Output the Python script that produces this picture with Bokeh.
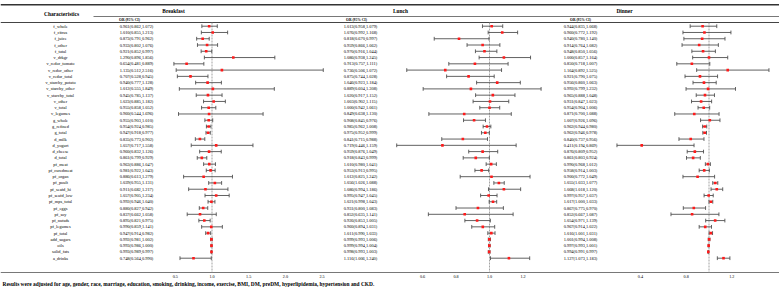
from bokeh.plotting import figure
from bokeh.models import Range1d
from bokeh.core.properties import value
from bokeh.embed import file_html
from bokeh.resources import INLINE

names = ["f_whole", "f_citrus", "f_juice", "f_other", "f_total", "v_drkgr",
         "v_redor_tomato", "v_redor_other", "v_redor_total", "v_starchy_potato",
         "v_starchy_other", "v_starchy_total", "v_other", "v_total", "v_legumes",
         "g_whole", "g_refined", "g_total", "d_milk", "d_yogurt", "d_cheese", "d_total",
         "pf_meat", "pf_curedmeat", "pf_organ", "pf_poult", "pf_seafd_hi", "pf_seafd_low",
         "pf_mps_total", "pf_eggs", "pf_soy", "pf_nutsds", "pf_legumes", "pf_total",
         "add_sugars", "oils", "solid_fats", "a_drinks"]

bf_or = [0.961, 1.010, 0.873, 0.933, 0.921, 1.290, 0.654, 1.135, 0.707, 0.940, 1.012, 0.945, 1.023,
         0.955, 0.960, 0.955, 0.954, 0.947, 0.835, 1.057, 0.960, 0.861, 0.963, 0.981, 0.886, 1.039,
         0.911, 1.057, 0.992, 0.880, 0.837, 0.895, 0.990, 0.947, 0.992, 0.993, 0.993, 0.748]
bf_lo = [0.862, 0.855, 0.791, 0.802, 0.852, 0.896, 0.481, 0.512, 0.528, 0.777, 0.555, 0.785, 0.885,
         0.858, 0.544, 0.903, 0.924, 0.918, 0.773, 0.717, 0.832, 0.799, 0.886, 0.922, 0.613, 0.955,
         0.682, 0.905, 0.946, 0.827, 0.662, 0.821, 0.859, 0.914, 0.981, 0.986, 0.989, 0.564]
bf_hi = [1.072, 1.213, 0.962, 1.076, 0.997, 1.856, 0.889, 2.516, 0.945, 1.128, 1.849, 1.137, 1.182,
         1.052, 1.696, 1.010, 0.985, 0.977, 0.902, 1.558, 1.126, 0.929, 1.047, 1.043, 1.279, 1.131,
         1.217, 1.234, 1.040, 0.942, 1.058, 0.975, 1.141, 0.982, 1.002, 1.000, 0.997, 0.990]

lu_or = [1.013, 1.076, 0.818, 0.959, 0.970, 1.086, 0.913, 0.736, 0.875, 1.046, 0.889, 1.020, 1.003,
         1.000, 0.849, 0.908, 0.985, 0.975, 0.841, 0.719, 0.959, 0.918, 1.010, 0.953, 1.012, 1.056,
         1.086, 0.995, 1.021, 0.931, 0.852, 0.926, 0.960, 1.011, 0.999, 0.999, 0.998, 1.116]
lu_lo = [0.958, 0.992, 0.670, 0.866, 0.916, 0.938, 0.757, 0.506, 0.744, 0.923, 0.604, 0.917, 0.902,
         0.942, 0.638, 0.845, 0.962, 0.952, 0.715, 0.446, 0.876, 0.843, 0.980, 0.913, 0.825, 1.026,
         0.994, 0.947, 0.998, 0.800, 0.635, 0.853, 0.894, 0.990, 0.993, 0.994, 0.993, 1.006]
lu_hi = [1.079, 1.168, 0.997, 1.062, 1.044, 1.245, 1.111, 1.072, 1.028, 1.184, 1.308, 1.152, 1.115,
         1.061, 1.130, 0.976, 1.008, 0.999, 0.988, 1.159, 1.049, 0.999, 1.041, 0.995, 1.242, 1.088,
         1.186, 1.045, 1.043, 1.083, 1.141, 1.005, 1.031, 1.033, 1.006, 1.004, 1.003, 1.240]

di_or = [0.944, 0.960, 0.940, 0.914, 0.948, 1.000, 0.850, 1.164, 0.921, 0.956, 0.992, 0.965, 0.931,
         0.954, 0.871, 1.007, 0.962, 0.962, 0.840, 0.411, 0.876, 0.861, 0.990, 0.958, 0.900, 1.055,
         1.068, 0.997, 1.017, 0.867, 0.852, 1.054, 0.967, 1.016, 1.001, 0.997, 0.994, 1.127]
di_lo = [0.835, 0.772, 0.780, 0.764, 0.850, 0.857, 0.718, 0.892, 0.790, 0.860, 0.799, 0.888, 0.847,
         0.904, 0.700, 0.926, 0.944, 0.946, 0.737, 0.194, 0.809, 0.803, 0.968, 0.914, 0.772, 1.033,
         1.018, 0.957, 1.000, 0.775, 0.667, 0.971, 0.914, 1.001, 0.994, 0.993, 0.991, 1.073]
di_hi = [1.068, 1.192, 1.140, 1.082, 1.056, 1.164, 1.007, 1.525, 1.075, 1.063, 1.232, 1.048, 1.023,
         1.006, 1.088, 1.096, 0.980, 0.978, 0.956, 0.869, 0.952, 0.924, 1.012, 1.003, 1.049, 1.077,
         1.120, 1.037, 1.033, 0.970, 1.087, 1.139, 1.022, 1.031, 1.008, 1.001, 0.997, 1.183]

bf_ticks = [0.5, 1.0, 1.5, 2.0, 2.5]
lu_ticks = [0.6, 0.8, 1.0, 1.2]
di_ticks = [0.4, 0.8, 1.2]

panel_titles = ["Breakfast", "Lunch", "Dinner"]
footnote = ("Results were adjusted for age, gender, race, marriage, education, smoking, drinking, "
            "income, exercise, BMI, DM, preDM, hyperlipidemia, hypertension and CKD.")

# ---------------- layout ----------------
W, H = 779, 291
ROW0, STEP = 25.7, 6.27
FONT = value("Liberation Serif")


def ry(pix):
    return (pix - ROW0) / STEP


p = figure(width=W, height=H, x_range=Range1d(0, W), y_range=Range1d(ry(H), ry(0)),
           output_backend="svg", toolbar_location=None, min_border=0,
           x_axis_location=None, y_axis_location=None)
p.outline_line_color = None
p.grid.visible = False
p.background_fill_color = "white"
p.border_fill_color = "white"

rows = list(range(len(names)))

# panel scales: (range name, title, ref value, pixel of ref, px per unit, value column x, title x,
#                data..., ticks, header x)
panels = [
    ("bf", panel_titles[0], 1.0, 211.5, 73.4, 136, 173, bf_or, bf_lo, bf_hi, bf_ticks, 129),
    ("lu", panel_titles[1], 1.0, 489.0, 167.5, 360, 400, lu_or, lu_lo, lu_hi, lu_ticks, 356),
    ("di", panel_titles[2], 1.0, 708.5, 114.2, 580, 624, di_or, di_lo, di_hi, di_ticks, 580),
]

y_top_rule = ry(4.3)
y_title_rule = ry(16.0)
y_head_rule = ry(22.0)
y_bottom = ry(272.0)

# horizontal rules
p.segment(x0=[0], y0=[y_top_rule], x1=[W], y1=[y_top_rule], line_color="#333333", line_width=1.6)
p.segment(x0=[93], y0=[y_title_rule], x1=[W], y1=[y_title_rule], line_color="#555555", line_width=0.8)
p.segment(x0=[0], y0=[y_head_rule], x1=[W], y1=[y_head_rule], line_color="#444444", line_width=1.2)
p.segment(x0=[0], y0=[y_bottom], x1=[W], y1=[y_bottom], line_color="#555555", line_width=0.8)

# characteristics column
p.text(x=[61], y=[ry(13.5)], text=["Characteristics"], text_font=FONT, text_font_size="5.4px",
       text_font_style=value("bold"), text_align="center", text_baseline="middle", text_color="black")
p.text(x=[60] * len(names), y=rows, text=names, text_font=FONT, text_font_size="4.4px",
       text_align="center", text_baseline="middle", text_color="black")

for (rn, title, ref, refpix, scale, col_x, title_x, o, lo, hi, ticks, hdr_x) in panels:
    start = ref - refpix / scale
    end = ref + (W - refpix) / scale
    p.extra_x_ranges[rn] = Range1d(start, end)

    # titles and column header
    p.text(x=[title_x], y=[ry(10.5)], text=[title],
           text_font=FONT, text_font_size="5.4px", text_font_style=value("bold"),
           text_align="center", text_baseline="middle", text_color="black")
    p.text(x=[hdr_x], y=[ry(19.0)], text=["OR (95% CI)"], text_font=FONT, text_font_size="3.6px",
           text_font_style=value("bold"), text_align="center", text_baseline="middle", text_color="black")

    labels = [f"{a:.3f}({b:.3f},{c:.3f})" for a, b, c in zip(o, lo, hi)]
    p.text(x=[col_x] * len(labels), y=rows, text=labels, text_font=FONT, text_font_size="4.4px",
           text_align="center", text_baseline="middle", text_color="black")

    # reference line at OR = 1
    p.segment(x0=[ref], y0=[y_head_rule], x1=[ref], y1=[y_bottom], x_range_name=rn,
              line_color="#8c8c8c", line_width=0.8, line_dash="2 1")

    # CI whiskers + caps
    p.segment(x0=lo, y0=rows, x1=hi, y1=rows, x_range_name=rn, line_color="#505050", line_width=0.9)
    cap_lo = [r - 0.3 for r in rows]
    cap_hi = [r + 0.3 for r in rows]
    p.segment(x0=lo, y0=cap_lo, x1=lo, y1=cap_hi, x_range_name=rn, line_color="#505050", line_width=0.9)
    p.segment(x0=hi, y0=cap_lo, x1=hi, y1=cap_hi, x_range_name=rn, line_color="#505050", line_width=0.9)

    # point estimates
    p.scatter(x=o, y=rows, x_range_name=rn, marker="square", size=2.6,
              fill_color="#ff1a1a", line_color=None)

    # tick labels
    p.text(x=ticks, y=[ry(276.0)] * len(ticks), text=[f"{t:.1f}" for t in ticks], x_range_name=rn,
           text_font=FONT, text_font_size="4.2px", text_align="center", text_baseline="middle",
           text_color="black")

# footnote
p.text(x=[2], y=[ry(283.0)], text=[footnote], text_font=FONT, text_font_size="5.4px",
       text_font_style=value("bold"), text_align="left", text_baseline="middle", text_color="black")

open("out.html", "w").write(file_html(p, INLINE))
